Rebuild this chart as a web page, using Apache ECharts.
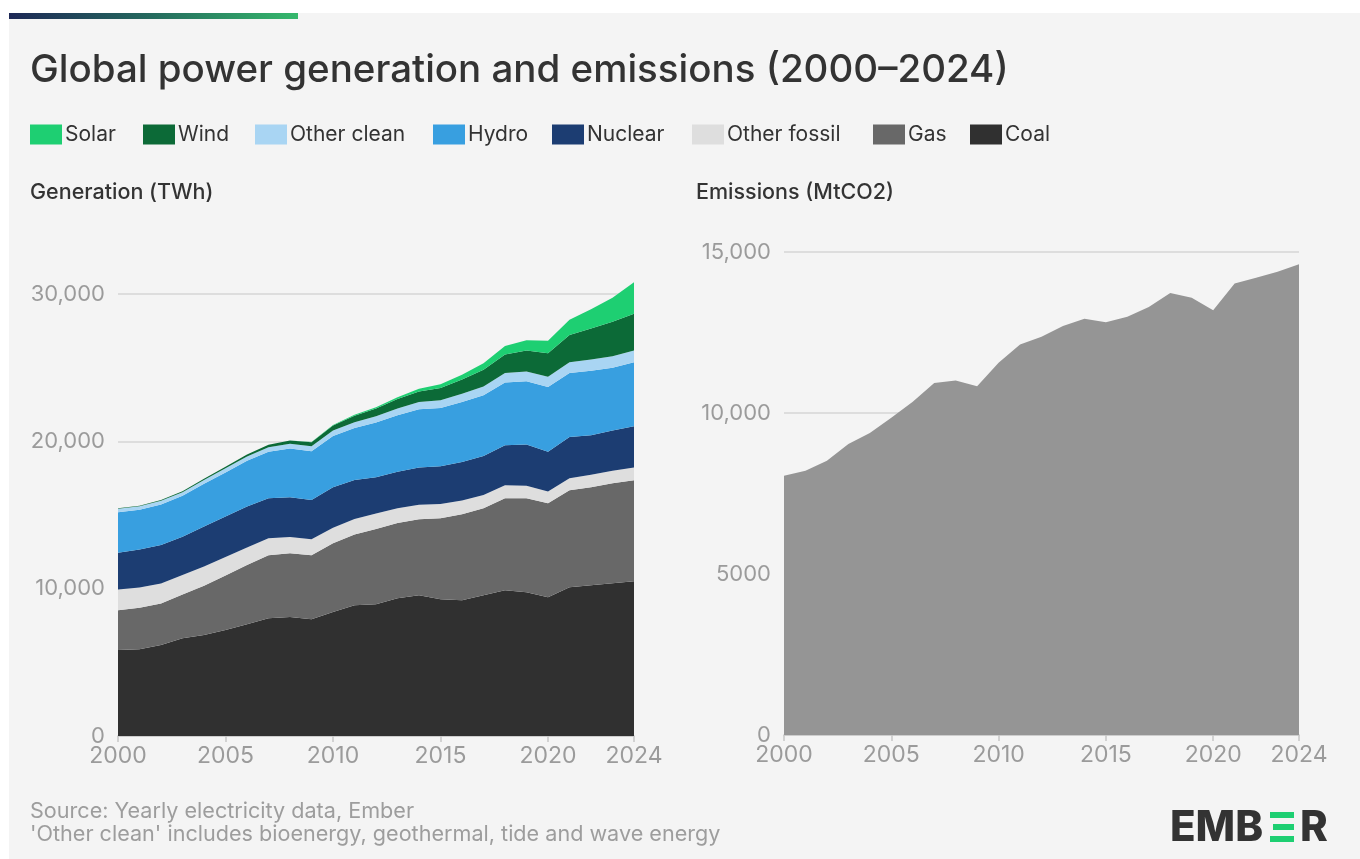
<!DOCTYPE html>
<html>
<head>
<meta charset="utf-8">
<script src="https://cdn.jsdelivr.net/npm/echarts@6/dist/echarts.min.js"></script>
<style>
  html, body { margin: 0; padding: 0; background: #ffffff; }
  #bg { position: absolute; left: 9px; top: 13px; right: 0; bottom: 0; background: #f4f4f4; }
  #chart { position: absolute; left: 0; top: 0; width: 1360px; height: 859px; }
</style>
</head>
<body>
<div id="bg"></div>
<div id="chart"></div>
<script>
const years = ['2000','2001','2002','2003','2004','2005','2006','2007','2008','2009','2010','2011','2012','2013','2014','2015','2016','2017','2018','2019','2020','2021','2022','2023','2024'];

// Generation (TWh)
const coal        = [5830, 5880, 6170, 6640, 6850, 7190, 7590, 8000, 8070, 7930, 8410, 8880, 8950, 9350, 9560, 9290, 9220, 9560, 9900, 9760, 9420, 10100, 10240, 10370, 10510];
const gas         = [2710, 2820, 2830, 2960, 3350, 3710, 4010, 4270, 4330, 4340, 4670, 4800, 5100, 5100, 5150, 5490, 5830, 5900, 6240, 6380, 6380, 6580, 6640, 6780, 6850];
const otherFossil = [1400, 1380, 1350, 1330, 1300, 1250, 1200, 1150, 1100, 1080, 1050, 1050, 1050, 1000, 980, 960, 930, 900, 880, 850, 800, 820, 850, 850, 860];
const nuclear     = [2490, 2580, 2620, 2600, 2720, 2740, 2780, 2720, 2710, 2670, 2750, 2640, 2470, 2490, 2540, 2570, 2610, 2640, 2720, 2790, 2690, 2800, 2680, 2740, 2810];
const hydro       = [2760, 2700, 2750, 2770, 2900, 3000, 3100, 3150, 3300, 3300, 3480, 3530, 3700, 3830, 3940, 3950, 4080, 4120, 4250, 4290, 4400, 4330, 4380, 4250, 4340];
const otherClean  = [230, 230, 240, 250, 260, 280, 290, 300, 320, 340, 380, 400, 430, 460, 500, 530, 560, 600, 640, 670, 700, 740, 770, 790, 800];
const wind        = [31, 38, 52, 63, 85, 104, 133, 171, 221, 277, 342, 437, 522, 636, 712, 832, 962, 1135, 1270, 1420, 1590, 1850, 2100, 2330, 2490];
const solar       = [1, 1, 2, 2, 3, 4, 6, 8, 12, 20, 32, 63, 97, 134, 190, 256, 329, 445, 573, 702, 852, 1040, 1310, 1630, 2130];

// Emissions (MtCO2)
const emissions   = [8050, 8210, 8520, 9040, 9380, 9850, 10350, 10930, 11010, 10830, 11560, 12130, 12370, 12700, 12930, 12820, 12990, 13290, 13730, 13580, 13190, 14020, 14200, 14390, 14620];

const genTicks = [0, 10000, 20000, 30000];
const emiTicks = [0, 5000, 10000, 15000];

const legendNames = ['Solar','Wind','Other clean','Hydro','Nuclear','Other fossil','Gas','Coal'];
const legendLeft  = [30, 143, 255, 433, 552, 692, 873, 970];
const colors = {
  'Coal': '#303030', 'Gas': '#686868', 'Other fossil': '#dedede', 'Nuclear': '#1c3d72',
  'Hydro': '#389fe0', 'Other clean': '#a9d5f3', 'Wind': '#0c6a37', 'Solar': '#1ecf72'
};

const FONT = 'Inter, "Noto Sans", sans-serif';
const labelColor = '#9b9b9b';

const showIdx = function (i) { return i % 5 === 0 || i === years.length - 1; };
const numFmt = function (v) { return v >= 10000 ? v.toLocaleString('en-US') : String(v); };

const chart = echarts.init(document.getElementById('chart'), null, { renderer: 'canvas' });

function areaSeries(name, data) {
  return {
    name: name, type: 'line', stack: 'gen', data: data,
    xAxisIndex: 0, yAxisIndex: 0,
    symbol: 'none', clip: false,
    lineStyle: { width: 0 },
    areaStyle: { color: colors[name], opacity: 1 },
    itemStyle: { color: colors[name] },
    emphasis: { disabled: true }
  };
}

function xAxisCfg(gridIndex) {
  return {
    type: 'category', gridIndex: gridIndex, data: years, boundaryGap: false,
    axisLine: { lineStyle: { color: '#c6c6c6', width: 1.5 } },
    axisTick: { show: true, interval: showIdx, length: 6, lineStyle: { color: '#c6c6c6', width: 1.5 } },
    axisLabel: { interval: showIdx, color: labelColor, fontSize: 23, fontFamily: FONT, margin: 9 },
    splitLine: { show: false }
  };
}

function yAxisCfg(gridIndex, ticks) {
  return {
    type: 'value', gridIndex: gridIndex, min: ticks[0], max: ticks[ticks.length - 1],
    interval: ticks[1] - ticks[0],
    axisLine: { show: false }, axisTick: { show: false },
    axisLabel: { color: labelColor, fontSize: 22, fontFamily: FONT, margin: 13, formatter: numFmt },
    splitLine: { show: true, lineStyle: { color: '#d6d6d6', width: 1.5 } }
  };
}

const legends = legendNames.map(function (n, i) {
  return {
    data: [n], left: legendLeft[i], top: 124, orient: 'horizontal', padding: 0,
    icon: 'rect', itemWidth: 32, itemHeight: 20, selectedMode: false,
    textStyle: { color: '#333333', fontSize: 21, fontFamily: FONT, padding: [0, 0, 0, -2] }
  };
});

const stackOrder = ['Coal', 'Gas', 'Other fossil', 'Nuclear', 'Hydro', 'Other clean', 'Wind', 'Solar'];
const stackData = { 'Coal': coal, 'Gas': gas, 'Other fossil': otherFossil, 'Nuclear': nuclear,
  'Hydro': hydro, 'Other clean': otherClean, 'Wind': wind, 'Solar': solar };

const series = stackOrder.map(function (n) { return areaSeries(n, stackData[n]); });
series.push({
  name: 'Emissions', type: 'line', data: emissions, xAxisIndex: 1, yAxisIndex: 1,
  symbol: 'none', lineStyle: { width: 0 },
  areaStyle: { color: '#959595', opacity: 1 }, itemStyle: { color: '#959595' },
  emphasis: { disabled: true }
});

const option = {
  backgroundColor: 'transparent',
  animation: false,
  textStyle: { fontFamily: FONT },
  legend: legends,
  grid: [
    { left: 118, right: 1360 - 634, top: 294, bottom: 859 - 736 },
    { left: 784, right: 1360 - 1299, top: 252, bottom: 859 - 735 }
  ],
  xAxis: [xAxisCfg(0), xAxisCfg(1)],
  yAxis: [yAxisCfg(0, genTicks), yAxisCfg(1, emiTicks)],
  series: series,
  graphic: [
    { type: 'rect', shape: { x: 9, y: 13, width: 289, height: 6 },
      style: { fill: new echarts.graphic.LinearGradient(0, 0, 1, 0, [
        { offset: 0, color: '#1d2856' }, { offset: 0.5, color: '#256b5e' }, { offset: 1, color: '#35b86c' }]) } },
    { type: 'text', x: 30, y: 70, style: { text: 'Global power generation and emissions (2000\u20132024)',
      fill: '#333333', font: '500 38.5px ' + FONT, textVerticalAlign: 'middle' } },
    { type: 'text', x: 30, y: 193, style: { text: 'Generation (TWh)', fill: '#333333',
      font: '500 21.5px ' + FONT, textVerticalAlign: 'middle' } },
    { type: 'text', x: 696, y: 193, style: { text: 'Emissions (MtCO2)', fill: '#333333',
      font: '500 21.5px ' + FONT, textVerticalAlign: 'middle' } },
    { type: 'text', x: 30, y: 811, style: { text: 'Source: Yearly electricity data, Ember', fill: '#9d9d9d',
      font: '21.6px ' + FONT, textVerticalAlign: 'middle' } },
    { type: 'text', x: 30, y: 834, style: { text: "'Other clean' includes bioenergy, geothermal, tide and wave energy", fill: '#9d9d9d',
      font: '21.6px ' + FONT, textVerticalAlign: 'middle' } },
    // EMBER logo
    { type: 'text', x: 1170, y: 828, style: { text: 'EMB', fill: '#333333',
      font: '800 42px ' + FONT, textVerticalAlign: 'middle' } },
    { type: 'rect', shape: { x: 1270, y: 812, width: 24, height: 6 }, style: { fill: '#1ecf72' } },
    { type: 'rect', shape: { x: 1273, y: 824, width: 21, height: 6 }, style: { fill: '#1ecf72' } },
    { type: 'rect', shape: { x: 1270, y: 836, width: 24, height: 6 }, style: { fill: '#1ecf72' } },
    { type: 'text', x: 1300, y: 828, style: { text: 'R', fill: '#333333',
      font: '800 42px ' + FONT, textVerticalAlign: 'middle' } }
  ]
};

chart.setOption(option);
</script>
</body>
</html>
